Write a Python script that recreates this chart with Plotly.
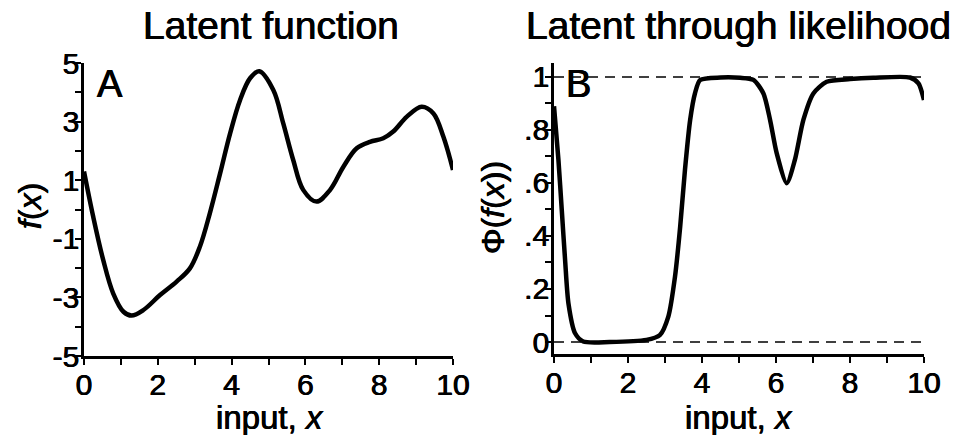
import plotly.graph_objects as go

# ---- data ----
x_latent = [0.0, 0.25, 0.52, 0.79, 1.07, 1.29, 1.61, 2.06, 2.51, 2.87, 3.14, 3.41, 3.69, 3.96,
            4.23, 4.5, 4.75, 5.13, 5.4, 5.67, 5.94, 6.3, 6.67, 7.03, 7.39, 7.75, 8.11, 8.38,
            8.75, 9.15, 9.47, 9.74, 10.0]
f_latent = [1.3, -0.25, -1.72, -2.86, -3.49, -3.62, -3.43, -2.92, -2.46, -2.01, -1.27, -0.13,
            1.24, 2.6, 3.74, 4.48, 4.72, 4.08, 2.94, 1.69, 0.67, 0.27, 0.67, 1.46, 2.09, 2.31,
            2.43, 2.66, 3.17, 3.51, 3.28, 2.48, 1.35]

x_prob = [0.0, 0.12, 0.21, 0.3, 0.39, 0.57, 0.79, 1.5, 2.5, 2.86, 3.09, 3.27, 3.41, 3.54, 3.68,
          3.81, 3.95, 4.5, 5.03, 5.39, 5.66, 5.84, 6.02, 6.29, 6.51, 6.74, 7.01, 7.37, 8.0,
          8.63, 9.62, 9.85, 10.0]
p_prob = [0.89, 0.687, 0.498, 0.309, 0.146, 0.033, 0.002, 0.0, 0.008, 0.026, 0.096, 0.246,
          0.435, 0.65, 0.838, 0.938, 0.989, 0.998, 0.997, 0.989, 0.938, 0.838, 0.712, 0.599,
          0.687, 0.838, 0.938, 0.982, 0.992, 0.997, 0.998, 0.976, 0.913]

ref_levels = [0, 1]

x_tickvals = [0, 2, 4, 6, 8, 10]
x_ticktext = ["0", "2", "4", "6", "8", "10"]
y1_tickvals = [5, 3, 1, -1, -3, -5]
y1_ticktext = ["5", "3", "1", "-1", "-3", "-5"]
y2_tickvals = [0, 0.2, 0.4, 0.6, 0.8, 1.0]
y2_ticktext = ["0", ".2", ".4", ".6", ".8", "1"]

titles = ["Latent function", "Latent through likelihood"]
panel_letters = ["A", "B"]
x_titles = ["input, <i>x</i>", "input, <i>x</i>"]
y_titles = ["<i>f</i>(<i>x</i>)", "Φ(<i>f</i>(<i>x</i>))"]

FONT = "Liberation Sans, Arial, Helvetica, sans-serif"
SHADOW = "0.4px 0 0 black, -0.4px 0 0 black"

fig = go.Figure()

fig.add_trace(go.Scatter(x=x_latent, y=f_latent, mode="lines",
                         line=dict(color="black", width=4.5, shape="spline", smoothing=1.0),
                         xaxis="x", yaxis="y", showlegend=False, hoverinfo="skip"))

for lv in ref_levels:
    fig.add_trace(go.Scatter(x=[0, 10], y=[lv, lv], mode="lines",
                             line=dict(color="black", width=1.3, dash="10px,7px"),
                             xaxis="x2", yaxis="y2", showlegend=False, hoverinfo="skip"))

fig.add_trace(go.Scatter(x=x_prob, y=p_prob, mode="lines",
                         line=dict(color="black", width=4.5, shape="spline", smoothing=0.7),
                         xaxis="x2", yaxis="y2", showlegend=False, hoverinfo="skip"))

W, H = 958, 435
def px_x(p):
    return p / W
def px_y(p):
    return 1 - p / H

axis_common = dict(showgrid=False, zeroline=False, showline=True, linecolor="black",
                   linewidth=2.5, ticks="outside", ticklen=6, tickwidth=2, tickcolor="black",
                   tickfont=dict(family=FONT, size=30, color="black", shadow=SHADOW),
                   tickmode="array", automargin=False)

minor_x = dict(ticks="outside", ticklen=6, tickwidth=2, tickcolor="black", dtick=1, tick0=0, showgrid=False)

fig.update_layout(
    width=W, height=H,
    margin=dict(l=0, r=0, t=0, b=0),
    paper_bgcolor="white", plot_bgcolor="white",
    font=dict(family=FONT, color="black"),
    xaxis=dict(domain=[px_x(84), px_x(453)], range=[0, 10], anchor="y",
               tickvals=x_tickvals, ticktext=x_ticktext, minor=minor_x,
               ticklabelstandoff=-6, **axis_common),
    yaxis=dict(domain=[px_y(356), px_y(63)], range=[-5, 5], anchor="x",
               tickvals=y1_tickvals, ticktext=y1_ticktext, ticklabelstandoff=-10,
               minor=dict(ticks="outside", ticklen=6, tickwidth=2, tickcolor="black", dtick=1, tick0=0, showgrid=False),
               **axis_common),
    xaxis2=dict(domain=[px_x(554), px_x(924)], range=[0, 10], anchor="y2",
                tickvals=x_tickvals, ticktext=x_ticktext, minor=minor_x,
                ticklabelstandoff=-6, **axis_common),
    yaxis2=dict(domain=[px_y(354), px_y(63)], range=[-0.0453, 1.0528], anchor="x2",
                tickvals=y2_tickvals, ticktext=y2_ticktext, ticklabelstandoff=-10,
                minor=dict(ticks="outside", ticklen=6, tickwidth=2, tickcolor="black", dtick=0.1, tick0=0, showgrid=False),
                **axis_common),
)

def ann(text, cx, cy, size, angle=0, xanchor="center"):
    fig.add_annotation(text=text, x=px_x(cx), y=px_y(cy), xref="paper", yref="paper",
                       showarrow=False, xanchor=xanchor, yanchor="middle", textangle=angle,
                       font=dict(family=FONT, size=size, color="black", shadow=SHADOW))

for t, cx in zip(titles, [271, 738]):
    ann(t, cx, 25, 39)

for t, cx in zip(x_titles, [270, 739]):
    ann(t, cx, 417, 33)

for t, cx, cy in zip(y_titles, [30, 493], [206, 208]):
    ann(t, cx, cy, 32, angle=-90)

for L, (lx, ly) in zip(panel_letters, [(95, 84), (564, 84)]):
    ann(L, lx, ly, 38, xanchor="left")

fig.write_html("out.html")
